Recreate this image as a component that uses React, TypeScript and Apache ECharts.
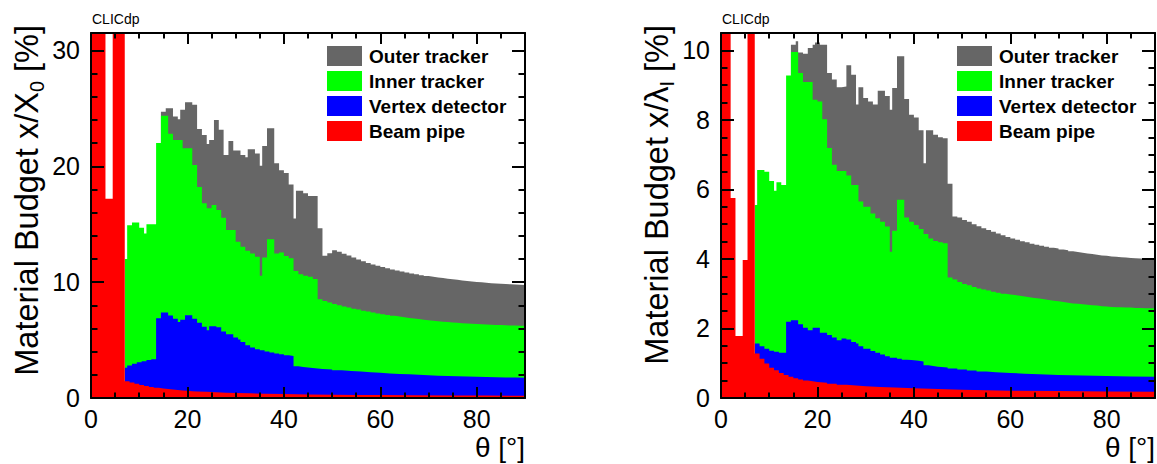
import React, { useEffect, useRef } from "react";
import * as echarts from "echarts";

// ---------- data (cumulative stack tops, [theta start of step, value]) ----------
const SERIES_NAMES = ["Outer tracker", "Inner tracker", "Vertex detector", "Beam pipe"];
const COLORS = ["#666666", "#00ff00", "#0000ff", "#ff0000"];
const X_TICKS = [0, 20, 40, 60, 80];

// Left panel: x/X0 [%]
const outerX0: number[][] = [
  [0, 0], [14.5, 24.7], [15.5, 25.0], [17, 24.3], [18, 24.06], [18.5, 24.87], [19.5, 25.53], [21, 25.3],
  [22, 23.22], [23, 22.7], [24, 21.93], [24.5, 22.27], [25.5, 24.0], [26.5, 23.14], [27.5, 20.98],
  [28.5, 22.19], [29.5, 21.35], [31, 20.98], [32, 20.78], [32.5, 21.47], [34, 21.1], [35, 20.05],
  [35.5, 21.75], [36.5, 23.28], [38, 20.26], [39, 19.65], [40, 19.42], [41, 18.42], [42, 15.5],
  [42.5, 17.89], [44, 17.66], [45, 17.43], [47, 14.64], [48, 12.27], [49, 12.5], [50, 12.75],
  [51, 12.62], [52, 12.45], [53, 12.3], [54, 12.12], [55, 11.95], [56, 11.8], [57, 11.66], [58, 11.53],
  [59, 11.41], [60, 11.3], [61, 11.2], [62, 11.1], [63, 11.0], [64, 10.91], [65, 10.83], [66, 10.75],
  [67, 10.67], [68, 10.6], [69, 10.53], [70, 10.47], [71, 10.41], [72, 10.35], [73, 10.3], [74, 10.25],
  [75, 10.2], [76, 10.15], [77, 10.1], [78, 10.06], [79, 10.02], [80, 9.98], [81, 9.94], [82, 9.91],
  [83, 9.88], [84, 9.85], [85, 9.83], [86, 9.81], [87, 9.79], [88, 9.77], [89, 9.76], [90, 9.76],
];
const innerX0: number[][] = [
  [0, 0], [7, 12.0], [7.5, 14.9], [8.5, 15.15], [10, 14.7], [11, 14.2], [11.5, 15.0], [13.5, 22.0],
  [14.5, 24.35], [16, 22.8], [17, 22.27], [19, 21.55], [21, 20.1], [22, 18.2], [23, 16.8], [24, 16.37],
  [25, 16.65], [26, 16.22], [27, 15.55], [28, 14.49], [30, 13.48], [31, 13.05], [32, 12.7], [33, 12.48],
  [34, 12.19], [35, 10.55], [35.5, 12.13], [36.5, 13.69], [38, 12.48], [39, 12.55], [40, 12.25],
  [41, 12.05], [42, 10.95], [43, 10.69], [44, 10.55], [45, 10.46], [46, 10.26], [47, 8.53], [48, 8.38],
  [49, 8.24], [50, 8.12], [51, 8.0], [52, 7.9], [53, 7.8], [54, 7.71], [55, 7.63], [56, 7.54],
  [57, 7.46], [58, 7.38], [59, 7.3], [60, 7.23], [61, 7.16], [62, 7.09], [63, 7.03], [64, 6.97],
  [65, 6.91], [66, 6.86], [67, 6.81], [68, 6.76], [69, 6.71], [70, 6.67], [71, 6.63], [72, 6.59],
  [73, 6.55], [74, 6.52], [75, 6.49], [76, 6.46], [77, 6.43], [78, 6.41], [79, 6.38], [80, 6.36],
  [81, 6.34], [82, 6.32], [83, 6.3], [84, 6.29], [85, 6.27], [86, 6.26], [87, 6.25], [88, 6.24],
  [89, 6.23], [90, 6.23],
];
const vertexX0: number[][] = [
  [0, 0], [7, 2.62], [7.5, 2.8], [8.5, 2.95], [9.5, 3.08], [10.5, 3.18], [11.5, 3.27], [12.5, 3.34],
  [13.5, 6.88], [14.5, 7.37], [16, 7.12], [17, 6.85], [18, 6.55], [18.5, 6.75], [19.5, 7.15], [21, 6.85],
  [22, 6.5], [23, 6.15], [24, 5.85], [24.5, 6.2], [26, 6.1], [27, 5.73], [28, 5.5], [29.5, 5.22],
  [30.5, 5.05], [31, 4.84], [32, 4.55], [33, 4.35], [34, 4.21], [35, 4.12], [36, 4.01], [37, 3.92],
  [38, 3.84], [39, 3.77], [40, 3.69], [41, 3.63], [42, 2.74], [43, 2.68], [44, 2.63], [45, 2.59],
  [46, 2.55], [47, 2.51], [48, 2.47], [50, 2.4], [52, 2.34], [54, 2.28], [56, 2.22], [58, 2.17],
  [60, 2.12], [62, 2.08], [64, 2.04], [66, 2.0], [68, 1.96], [70, 1.93], [72, 1.9], [74, 1.88],
  [76, 1.85], [78, 1.83], [80, 1.81], [82, 1.79], [84, 1.77], [86, 1.76], [88, 1.75], [90, 1.75],
];
const beamX0: number[][] = [
  [0, 40], [3, 17.2], [4.5, 40], [7, 1.45], [8, 1.33], [9, 1.22], [10, 1.12], [11, 1.03], [12, 0.96],
  [13, 0.89], [14, 0.83], [15, 0.78], [16, 0.73], [17, 0.69], [18, 0.65], [19, 0.62], [20, 0.59],
  [21, 0.56], [22, 0.54], [24, 0.5], [26, 0.46], [28, 0.43], [30, 0.4], [33, 0.37], [36, 0.34],
  [40, 0.31], [45, 0.28], [50, 0.26], [55, 0.25], [60, 0.23], [67, 0.22], [75, 0.21], [82, 0.2], [90, 0.2],
];

// Right panel: x/lambda_I [%]
const outerL: number[][] = [
  [0, 0], [14.5, 10.16], [15.5, 10.26], [16, 9.94], [17, 9.9], [18, 10.07], [19, 10.16], [19.5, 10.23],
  [20.5, 10.16], [22, 9.35], [23, 9.16], [24, 8.94], [25, 8.96], [26, 9.57], [27, 9.3], [28, 8.44],
  [28.5, 8.94], [29.5, 8.63], [30.5, 8.53], [31.5, 8.44], [32.5, 8.84], [34, 8.69], [35, 8.29],
  [35.5, 8.92], [36.5, 9.83], [38, 8.6], [39, 8.15], [40, 8.07], [41, 7.7], [42, 6.75], [42.5, 7.7],
  [44, 7.57], [45, 7.5], [46, 7.47], [47, 6.16], [48, 5.22], [49, 5.19], [50, 5.12], [51, 5.07],
  [52, 5.0], [53, 4.94], [54, 4.88], [55, 4.83], [56, 4.78], [57, 4.73], [58, 4.68], [59, 4.63],
  [60, 4.59], [61, 4.55], [62, 4.51], [63, 4.48], [64, 4.44], [65, 4.41], [66, 4.38], [67, 4.35],
  [68, 4.32], [69, 4.3], [70, 4.27], [71, 4.25], [72, 4.22], [73, 4.2], [74, 4.18], [75, 4.16],
  [76, 4.14], [77, 4.12], [78, 4.1], [79, 4.09], [80, 4.07], [81, 4.06], [82, 4.05], [83, 4.04],
  [84, 4.03], [85, 4.02], [86, 4.01], [87, 4.0], [88, 4.0], [89, 3.99], [90, 3.99],
];
const innerL: number[][] = [
  [0, 0], [7, 5.55], [7.5, 6.56], [9, 6.51], [10, 6.24], [11, 5.96], [11.5, 6.21], [12.5, 6.13],
  [13.5, 9.28], [14.5, 9.95], [16, 9.35], [17, 9.09], [19, 8.58], [20, 8.53], [21, 8.02], [22, 7.19],
  [23, 6.71], [24, 6.53], [26, 6.4], [27, 6.13], [28.5, 5.65], [29.5, 5.5], [31, 5.31], [32, 5.17],
  [33, 5.07], [34, 4.93], [35, 4.21], [35.5, 4.81], [36.5, 5.7], [38, 5.19], [39, 5.07], [40, 4.98],
  [41, 4.86], [42, 4.72], [43, 4.59], [44, 4.52], [45, 4.48], [46, 4.45], [47, 3.47], [48, 3.41],
  [49, 3.34], [50, 3.28], [51, 3.24], [52, 3.19], [53, 3.15], [54, 3.12], [55, 3.09], [56, 3.06],
  [57, 3.03], [58, 3.0], [59, 2.98], [60, 2.96], [61, 2.94], [62, 2.92], [63, 2.9], [64, 2.88],
  [65, 2.86], [66, 2.84], [67, 2.82], [68, 2.8], [69, 2.78], [70, 2.76], [71, 2.74], [72, 2.72],
  [73, 2.71], [74, 2.7], [75, 2.68], [76, 2.67], [77, 2.66], [78, 2.64], [79, 2.63], [80, 2.62],
  [81, 2.61], [82, 2.61], [83, 2.6], [84, 2.6], [85, 2.59], [86, 2.59], [87, 2.58], [88, 2.58],
  [89, 2.58], [90, 2.58],
];
const vertexL: number[][] = [
  [0, 0], [7, 1.57], [8, 1.49], [9, 1.42], [10, 1.36], [11, 1.33], [12, 1.3], [13.5, 2.19], [14.5, 2.24],
  [16, 2.12], [17, 2.02], [18, 1.95], [19, 2.02], [20.5, 1.88], [22, 1.81], [23, 1.74], [24, 1.66],
  [25, 1.71], [26, 1.68], [27, 1.61], [28, 1.57], [28.5, 1.49], [29.5, 1.42], [31, 1.35], [32, 1.3],
  [33, 1.25], [34, 1.2], [35, 1.16], [36.5, 1.13], [37.5, 1.1], [38.5, 1.09], [39.5, 1.07], [41, 1.05],
  [42, 0.94], [43, 0.92], [44, 0.9], [45, 0.88], [47, 0.85], [49, 0.82], [51, 0.79], [53, 0.76],
  [55, 0.74], [57, 0.72], [60, 0.7], [63, 0.68], [66, 0.66], [70, 0.65], [75, 0.63], [80, 0.62],
  [85, 0.61], [90, 0.61],
];
const beamL: number[][] = [
  [0, 20], [2, 5.75], [3, 1.78], [4.5, 3.97], [5.5, 20], [7, 1.28], [8, 1.13], [9, 0.99], [10, 0.87],
  [11, 0.8], [12, 0.72], [13, 0.66], [14, 0.61], [15, 0.57], [16, 0.53], [17, 0.5], [18, 0.48],
  [19, 0.46], [20, 0.44], [22, 0.41], [24, 0.38], [26, 0.36], [28, 0.34], [30, 0.32], [33, 0.3],
  [36, 0.28], [40, 0.26], [45, 0.24], [50, 0.22], [55, 0.21], [60, 0.2], [70, 0.19], [80, 0.18], [90, 0.18],
];

// ---------- layout ----------
const FONT = '"Liberation Sans", Arial, Helvetica, sans-serif';
const W = 1157;
const H = 464;
const GRID_TOP = 33;
const GRID_H = 365;
const GRID_W = 434;
const PANELS = [
  { left: 91, yMax: 31.5, yMajor: 10, yMinor: 2, data: [outerX0, innerX0, vertexX0, beamX0], sub: "0", main: "x/X" },
  { left: 721, yMax: 10.5, yMajor: 2, yMinor: 0.5, data: [outerL, innerL, vertexL, beamL], sub: "I", main: "x/λ" },
];

function buildOption() {
  const grid: any[] = [];
  const xAxis: any[] = [];
  const yAxis: any[] = [];
  const series: any[] = [];
  const legend: any[] = [];
  const graphic: any[] = [];
  const tickStyle = { color: "#000", width: 2 };
  const lineStyle = { color: "#000", width: 2 };

  PANELS.forEach((p, g) => {
    grid.push({
      left: p.left, top: GRID_TOP, width: GRID_W, height: GRID_H,
      containLabel: false, outerBoundsMode: "none", show: false,
    });
    const baseX = { gridIndex: g, type: "value", min: 0, max: 90, z: 5, splitLine: { show: false }, axisPointer: { show: false } };
    const baseY = { gridIndex: g, type: "value", min: 0, max: p.yMax, z: 5, splitLine: { show: false }, axisPointer: { show: false } };
    const noLine = { show: false, onZero: false };
    const frameLine = { show: true, onZero: false, lineStyle };
    // x axes: bottom major/minor, top major/minor
    xAxis.push({
      ...baseX, position: "bottom", interval: 20, axisLine: frameLine,
      axisTick: { show: true, inside: true, length: 11, lineStyle: tickStyle },
      axisLabel: {
        show: true, color: "#000", fontSize: 25, fontFamily: FONT, margin: 8,
        formatter: (v: number) => (X_TICKS.indexOf(v) >= 0 ? String(v) : ""),
      },
    });
    xAxis.push({ ...baseX, position: "bottom", interval: 5, axisLine: noLine, axisLabel: { show: false },
      axisTick: { show: true, inside: true, length: 5.5, lineStyle: tickStyle } });
    xAxis.push({ ...baseX, position: "top", interval: 20, axisLine: frameLine, axisLabel: { show: false },
      axisTick: { show: true, inside: true, length: 11, lineStyle: tickStyle } });
    xAxis.push({ ...baseX, position: "top", interval: 5, axisLine: noLine, axisLabel: { show: false },
      axisTick: { show: true, inside: true, length: 5.5, lineStyle: tickStyle } });
    // y axes
    yAxis.push({
      ...baseY, position: "left", interval: p.yMajor, axisLine: frameLine,
      axisTick: { show: true, inside: true, length: 13, lineStyle: tickStyle },
      axisLabel: {
        show: true, color: "#000", fontSize: 25, fontFamily: FONT, margin: 11,
        formatter: (v: number) => (Math.abs(v / p.yMajor - Math.round(v / p.yMajor)) < 1e-6 ? String(v) : ""),
      },
    });
    yAxis.push({ ...baseY, position: "left", interval: p.yMinor, axisLine: noLine, axisLabel: { show: false },
      axisTick: { show: true, inside: true, length: 6.5, lineStyle: tickStyle } });
    yAxis.push({ ...baseY, position: "right", interval: p.yMajor, axisLine: frameLine, axisLabel: { show: false },
      axisTick: { show: true, inside: true, length: 13, lineStyle: tickStyle } });
    yAxis.push({ ...baseY, position: "right", interval: p.yMinor, axisLine: noLine, axisLabel: { show: false },
      axisTick: { show: true, inside: true, length: 6.5, lineStyle: tickStyle } });

    p.data.forEach((d, k) => {
      series.push({
        type: "line", name: SERIES_NAMES[k], xAxisIndex: g * 4, yAxisIndex: g * 4,
        data: d, step: "end", symbol: "none", showSymbol: false, clip: true, silent: true,
        lineStyle: { width: 0, color: COLORS[k] }, itemStyle: { color: COLORS[k] },
        areaStyle: { color: COLORS[k], opacity: 1 }, z: 2,
      });
    });

    legend.push({
      show: true, orient: "vertical", left: p.left + 236, top: 46, padding: 0,
      itemWidth: 35, itemHeight: 20, itemGap: 5, icon: "rect", selectedMode: false,
      data: SERIES_NAMES.map((n) => ({ name: n, icon: "rect" })),
      textStyle: { color: "#000", fontSize: 19, fontWeight: "bold", fontFamily: FONT, lineHeight: 20, padding: [0, 0, 0, 2] },
    });

    graphic.push({
      type: "text", x: p.left + 1, y: 19,
      style: { text: "CLICdp", fontSize: 14, fontFamily: FONT, fill: "#000", verticalAlign: "middle", textVerticalAlign: "middle" },
    });
    graphic.push({
      type: "text", x: p.left + GRID_W, y: 447,
      style: {
        text: "θ [°]", fontSize: 28, fontFamily: FONT, fill: "#000",
        align: "right", textAlign: "right", verticalAlign: "middle", textVerticalAlign: "middle",
      },
    });
    graphic.push({
      type: "text", x: p.left - 64, y: 25, rotation: Math.PI / 2,
      style: {
        text: "{a|Material Budget " + p.main + "}{b|" + p.sub + "}{a| [%]}",
        fill: "#000", fontFamily: FONT,
        align: "right", textAlign: "right", verticalAlign: "middle", textVerticalAlign: "middle",
        rich: {
          a: { fontSize: 32.5, fontFamily: FONT, fill: "#000", color: "#000", lineHeight: 40 },
          b: { fontSize: 20, fontFamily: FONT, fill: "#000", color: "#000", lineHeight: 20, verticalAlign: "bottom" },
        },
      },
    });
  });

  return {
    animation: false,
    backgroundColor: "#ffffff",
    grid, xAxis, yAxis, series, legend, graphic,
    tooltip: { show: false },
  };
}

export default function App() {
  const ref = useRef<HTMLDivElement>(null);
  useEffect(() => {
    if (!ref.current) return;
    const chart = echarts.init(ref.current, null, { renderer: "svg", width: W, height: H });
    chart.setOption(buildOption() as any);
    return () => chart.dispose();
  }, []);
  return (
    <div
      ref={ref}
      style={{ position: "absolute", left: 0, top: 0, width: W, height: H, background: "#fff" }}
    />
  );
}
